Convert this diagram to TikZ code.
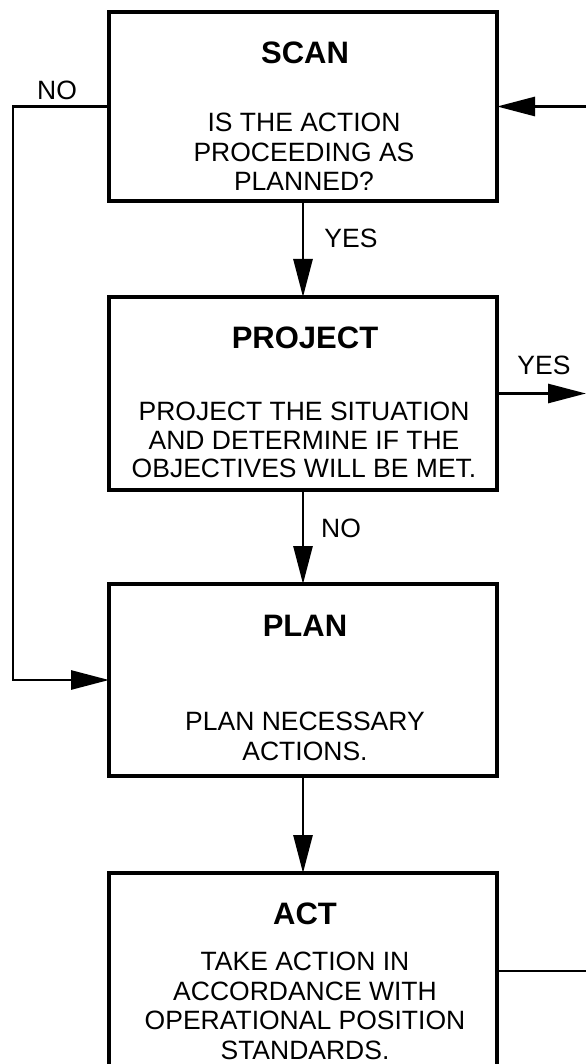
\documentclass[tikz,border=0pt]{standalone}
\usepackage{fontspec}
\setmainfont{Liberation Sans}
\usetikzlibrary{arrows.meta}
\tikzset{
  box/.style={draw, line width=3.2pt, minimum width=388pt, inner sep=0pt, outer sep=0pt},
  conn/.style={line width=2.8pt},
  arr/.style={conn, -{Triangle[length=38pt,width=19pt]}},
  ttl/.style={font=\fontsize{31}{34}\selectfont\bfseries, anchor=north, inner sep=0pt},
  body/.style={font=\fontsize{26.5}{29.5}\selectfont, anchor=north, inner sep=0pt, align=center},
  lbl/.style={font=\fontsize{26.5}{29.5}\selectfont, inner sep=0pt}
}
\begin{document}
\begin{tikzpicture}[x=1pt,y=-1pt]
\useasboundingbox (0,0) rectangle (586,1064);
\clip (0,0) rectangle (586,1064);
\fill[white] (0,0) rectangle (586,1064);
% boxes
\node[box, minimum height=189pt] (scan) at (303,106.5) {};
\node[box, minimum height=193pt] (project) at (303,393.5) {};
\node[box, minimum height=192pt] (plan) at (303,680) {};
\node[box, minimum height=196pt] (act) at (303,971) {};
% titles
\node[ttl] (scanT) at (305,42) {SCAN};
\node[ttl] (projectT) at (305,327) {PROJECT};
\node[ttl] (planT) at (305,615) {PLAN};
\node[ttl] (actT) at (305,903) {ACT};
% body texts
\node[body] (scanB) at (304,113) {IS THE ACTION\\PROCEEDING AS\\PLANNED?};
\node[body, font=\fontsize{26.5}{28.5}\selectfont] (projectB) at (304,402) {PROJECT THE SITUATION\\AND DETERMINE IF THE\\OBJECTIVES WILL BE MET.};
\node[body, font=\fontsize{26.5}{30}\selectfont] (planB) at (305,712) {PLAN NECESSARY\\ACTIONS.};
\node[body] (actB) at (305,952) {TAKE ACTION IN\\ACCORDANCE WITH\\OPERATIONAL POSITION\\STANDARDS.};
% coordinates
\coordinate (lc) at (13,106.5);
\coordinate (rin) at (586,106.5);
\coordinate (rout) at (586,393.5);
\coordinate (ract) at (586,971);
% connectors
\draw[arr] (scan.south) -- (project.north);
\draw[arr] (project.south) -- (plan.north);
\draw[arr] (plan.south) -- (act.north);
\draw[arr] (scan.west) -- (lc) |- (plan.west);
\draw[arr] (rin) -- (scan.east);
\draw[arr] (project.east) -- (rout);
\draw[conn] (act.east) -- (ract);
% labels
\node[lbl] (noTop) at (57,90) {NO};
\node[lbl] (yesTop) at (351,238) {YES};
\node[lbl] (yesRight) at (544,365) {YES};
\node[lbl] (noMid) at (341,528) {NO};
\end{tikzpicture}
\end{document}
